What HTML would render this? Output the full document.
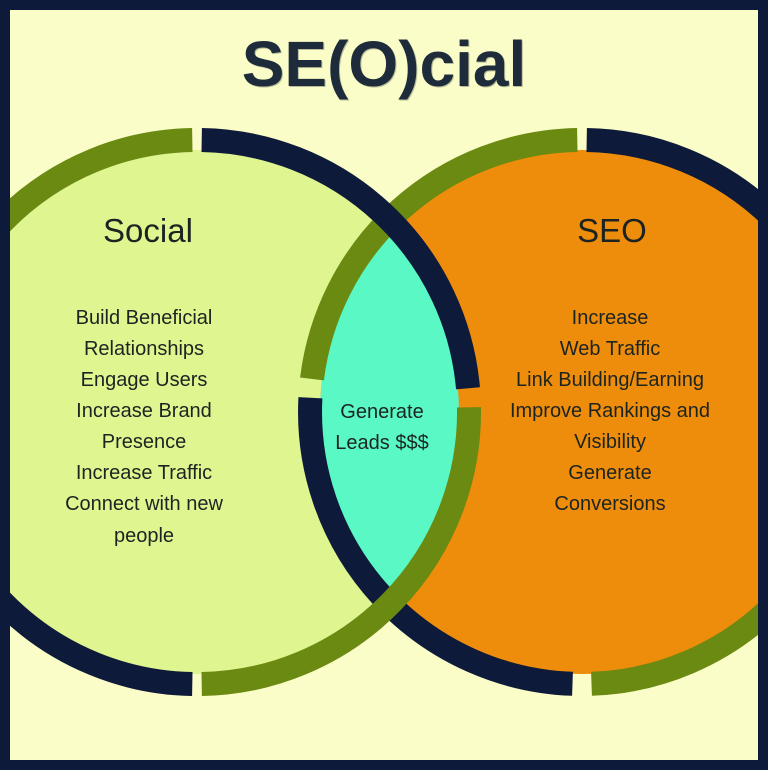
<!DOCTYPE html>
<html><head><meta charset="utf-8"><style>
html,body{margin:0;padding:0;background:#fbfdc8}
svg{display:block}
text{font-family:"Liberation Sans",sans-serif;fill:#1c2422;text-anchor:middle}
</style></head><body>
<svg width="768" height="770" viewBox="0 0 768 770">
<defs><clipPath id="cl"><circle cx="197" cy="412" r="262"/></clipPath></defs>
<rect x="0" y="0" width="768" height="770" fill="#fbfdc8"/>
<circle cx="197" cy="412" r="262" fill="#dff590"/>
<circle cx="582" cy="412" r="262" fill="#ee8d0b"/>
<circle cx="582" cy="412" r="262" fill="#5af8c4" clip-path="url(#cl)"/>
<g fill="none" stroke-width="24">
<path d="M586.7 140 A272 272 0 0 1 854 412" stroke="#0e1a3a"/>
<path d="M854 412 A272 272 0 0 1 591.5 683.8" stroke="#6a8a12"/>
<path d="M572.5 683.8 A272 272 0 0 1 310.4 397.8" stroke="#0e1a3a"/>
<path d="M312 378.9 A272 272 0 0 1 577.3 140" stroke="#6a8a12"/>
<path d="M192.3 684 A272 272 0 0 1 -75 412" stroke="#0e1a3a"/>
<path d="M-75 412 A272 272 0 0 1 192.3 140" stroke="#6a8a12"/>
<path d="M201.7 140 A272 272 0 0 1 468 388.3" stroke="#0e1a3a"/>
<path d="M469 407.3 A272 272 0 0 1 201.7 684" stroke="#6a8a12"/>
</g>
<rect x="5" y="5" width="758" height="760" fill="none" stroke="#0e1a3a" stroke-width="10"/>
<text x="385" y="87" font-size="64" font-weight="bold" style="fill:#b8bc98">SE(O)cial</text>
<text x="384" y="86" font-size="64" font-weight="bold" style="fill:#1d2b3b">SE(O)cial</text>
<text x="148" y="242" font-size="33">Social</text>
<text x="612" y="242" font-size="33">SEO</text>
<g font-size="20">
<text x="144" y="324">Build Beneficial</text>
<text x="144" y="355">Relationships</text>
<text x="144" y="386">Engage Users</text>
<text x="144" y="417">Increase Brand</text>
<text x="144" y="448">Presence</text>
<text x="144" y="479">Increase Traffic</text>
<text x="144" y="510">Connect with new</text>
<text x="144" y="542">people</text>
<text x="610" y="324">Increase</text>
<text x="610" y="355">Web Traffic</text>
<text x="610" y="386">Link Building/Earning</text>
<text x="610" y="417">Improve Rankings and</text>
<text x="610" y="448">Visibility</text>
<text x="610" y="479">Generate</text>
<text x="610" y="510">Conversions</text>
<text x="382" y="418">Generate</text>
<text x="382" y="449">Leads $$$</text>
</g>
</svg>
</body></html>
